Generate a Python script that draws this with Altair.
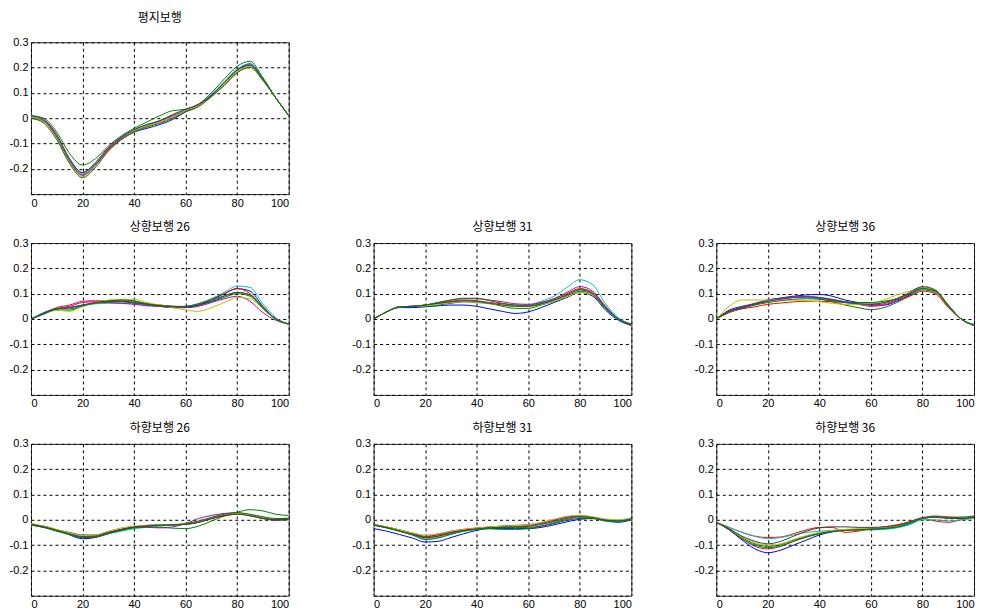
import altair as alt
import pandas as pd

x_pct = [0, 5, 10, 15, 20, 25, 30, 35, 40, 45, 50, 55, 60, 65, 70, 75, 80, 85, 90, 95, 100]
series_names = ["b", "g", "r", "c", "m", "y", "k", "g2"]
series_colors = ["#0000FF", "#008000", "#FF0000", "#00BFBF", "#BF00BF", "#BFBF00", "#404040", "#008000"]

titles = ["평지보행", "상향보행 26", "상향보행 31", "상향보행 36", "하향보행 26", "하향보행 31", "하향보행 36"]

flat = [
    [0.005, -0.01, -0.07, -0.165, -0.215, -0.18, -0.125, -0.085, -0.055, -0.04, -0.025, -0.005, 0.025, 0.05, 0.09, 0.14, 0.19, 0.215, 0.155, 0.08, 0.01],
    [0.01, 0.0, -0.055, -0.14, -0.185, -0.16, -0.11, -0.07, -0.04, -0.015, 0.01, 0.03, 0.035, 0.055, 0.1, 0.155, 0.205, 0.225, 0.16, 0.08, 0.01],
    [0.0, -0.015, -0.075, -0.17, -0.225, -0.185, -0.125, -0.08, -0.05, -0.03, -0.015, 0.005, 0.03, 0.05, 0.085, 0.13, 0.18, 0.205, 0.15, 0.08, 0.01],
    [0.005, -0.01, -0.07, -0.165, -0.22, -0.18, -0.12, -0.075, -0.045, -0.025, -0.01, 0.01, 0.035, 0.055, 0.095, 0.145, 0.195, 0.215, 0.155, 0.08, 0.01],
    [0.0, -0.01, -0.075, -0.17, -0.225, -0.185, -0.12, -0.08, -0.05, -0.03, -0.01, 0.01, 0.03, 0.055, 0.09, 0.14, 0.19, 0.21, 0.15, 0.08, 0.01],
    [0.005, -0.015, -0.08, -0.175, -0.23, -0.19, -0.13, -0.085, -0.05, -0.03, -0.015, 0.005, 0.03, 0.05, 0.085, 0.135, 0.185, 0.205, 0.15, 0.08, 0.01],
    [0.01, -0.005, -0.065, -0.16, -0.215, -0.175, -0.115, -0.075, -0.045, -0.025, -0.01, 0.015, 0.035, 0.055, 0.09, 0.14, 0.19, 0.21, 0.155, 0.08, 0.01],
    [0.0, -0.02, -0.085, -0.18, -0.235, -0.195, -0.13, -0.085, -0.055, -0.035, -0.02, 0.0, 0.025, 0.045, 0.085, 0.13, 0.18, 0.2, 0.15, 0.08, 0.01],
]

up26 = [
    [0.0, 0.025, 0.042, 0.045, 0.055, 0.062, 0.066, 0.068, 0.062, 0.055, 0.05, 0.045, 0.045, 0.055, 0.075, 0.1, 0.12, 0.11, 0.05, 0.0, -0.02],
    [0.0, 0.02, 0.035, 0.035, 0.05, 0.065, 0.072, 0.075, 0.07, 0.06, 0.055, 0.05, 0.048, 0.055, 0.068, 0.085, 0.1, 0.09, 0.04, 0.0, -0.02],
    [0.0, 0.02, 0.045, 0.055, 0.07, 0.072, 0.072, 0.07, 0.065, 0.058, 0.055, 0.05, 0.05, 0.06, 0.08, 0.1, 0.12, 0.1, 0.045, 0.0, -0.02],
    [0.0, 0.02, 0.04, 0.045, 0.055, 0.06, 0.062, 0.062, 0.06, 0.055, 0.05, 0.048, 0.05, 0.06, 0.08, 0.105, 0.13, 0.125, 0.06, 0.005, -0.02],
    [0.0, 0.02, 0.04, 0.05, 0.065, 0.068, 0.065, 0.062, 0.058, 0.052, 0.05, 0.045, 0.045, 0.05, 0.065, 0.08, 0.09, 0.07, 0.025, -0.005, -0.02],
    [0.0, 0.02, 0.035, 0.03, 0.05, 0.065, 0.075, 0.078, 0.078, 0.065, 0.055, 0.045, 0.035, 0.03, 0.045, 0.065, 0.085, 0.08, 0.04, 0.0, -0.02],
    [0.0, 0.022, 0.04, 0.045, 0.055, 0.065, 0.07, 0.07, 0.065, 0.058, 0.052, 0.05, 0.048, 0.055, 0.07, 0.09, 0.105, 0.095, 0.045, 0.0, -0.02],
    [0.0, 0.02, 0.04, 0.04, 0.052, 0.063, 0.07, 0.075, 0.072, 0.06, 0.053, 0.048, 0.05, 0.06, 0.075, 0.092, 0.105, 0.095, 0.045, 0.0, -0.02],
]

up31 = [
    [0.0, 0.028, 0.045, 0.045, 0.048, 0.052, 0.055, 0.055, 0.05, 0.04, 0.03, 0.022, 0.028, 0.045, 0.065, 0.085, 0.105, 0.09, 0.035, -0.005, -0.025],
    [0.0, 0.028, 0.048, 0.05, 0.05, 0.055, 0.062, 0.068, 0.068, 0.062, 0.05, 0.042, 0.042, 0.055, 0.07, 0.09, 0.11, 0.095, 0.04, 0.0, -0.02],
    [0.0, 0.028, 0.048, 0.05, 0.055, 0.062, 0.07, 0.075, 0.072, 0.065, 0.06, 0.055, 0.055, 0.065, 0.08, 0.1, 0.12, 0.105, 0.05, 0.0, -0.025],
    [0.0, 0.028, 0.048, 0.05, 0.055, 0.06, 0.065, 0.068, 0.065, 0.06, 0.055, 0.052, 0.055, 0.07, 0.09, 0.125, 0.155, 0.135, 0.06, 0.005, -0.02],
    [0.0, 0.028, 0.048, 0.05, 0.055, 0.065, 0.075, 0.08, 0.08, 0.075, 0.068, 0.06, 0.058, 0.065, 0.08, 0.105, 0.128, 0.11, 0.05, 0.0, -0.025],
    [0.0, 0.028, 0.048, 0.05, 0.052, 0.058, 0.065, 0.07, 0.068, 0.062, 0.055, 0.05, 0.05, 0.058, 0.07, 0.088, 0.105, 0.095, 0.045, 0.0, -0.02],
    [0.0, 0.028, 0.048, 0.05, 0.055, 0.062, 0.068, 0.072, 0.07, 0.062, 0.055, 0.05, 0.05, 0.06, 0.075, 0.095, 0.115, 0.1, 0.045, 0.0, -0.025],
    [0.0, 0.028, 0.048, 0.05, 0.055, 0.065, 0.075, 0.082, 0.082, 0.072, 0.062, 0.055, 0.052, 0.06, 0.075, 0.095, 0.118, 0.1, 0.045, 0.0, -0.02],
]

up36 = [
    [0.0, 0.035, 0.05, 0.06, 0.075, 0.083, 0.09, 0.095, 0.097, 0.09, 0.075, 0.065, 0.055, 0.055, 0.07, 0.095, 0.12, 0.11, 0.055, 0.0, -0.025],
    [0.0, 0.03, 0.045, 0.058, 0.07, 0.08, 0.085, 0.085, 0.08, 0.068, 0.055, 0.045, 0.037, 0.045, 0.065, 0.09, 0.115, 0.105, 0.05, 0.0, -0.025],
    [0.0, 0.025, 0.04, 0.048, 0.058, 0.063, 0.068, 0.07, 0.07, 0.068, 0.065, 0.06, 0.055, 0.06, 0.075, 0.09, 0.11, 0.1, 0.045, 0.0, -0.025],
    [0.0, 0.03, 0.048, 0.06, 0.072, 0.08, 0.085, 0.085, 0.082, 0.075, 0.068, 0.062, 0.06, 0.065, 0.08, 0.1, 0.12, 0.11, 0.055, 0.0, -0.02],
    [0.0, 0.03, 0.048, 0.062, 0.075, 0.082, 0.088, 0.088, 0.085, 0.075, 0.065, 0.058, 0.05, 0.055, 0.075, 0.1, 0.125, 0.11, 0.05, 0.0, -0.025],
    [0.0, 0.05, 0.075, 0.075, 0.075, 0.075, 0.075, 0.073, 0.068, 0.062, 0.058, 0.058, 0.062, 0.075, 0.095, 0.11, 0.125, 0.11, 0.05, 0.0, -0.025],
    [0.0, 0.03, 0.045, 0.058, 0.07, 0.078, 0.085, 0.088, 0.085, 0.078, 0.068, 0.06, 0.058, 0.065, 0.08, 0.105, 0.128, 0.115, 0.055, 0.0, -0.025],
    [0.0, 0.028, 0.042, 0.055, 0.065, 0.072, 0.078, 0.08, 0.078, 0.072, 0.068, 0.065, 0.065, 0.07, 0.08, 0.1, 0.12, 0.11, 0.05, 0.0, -0.025],
]

down26 = [
    [-0.02, -0.025, -0.04, -0.06, -0.075, -0.07, -0.055, -0.04, -0.03, -0.022, -0.02, -0.02, -0.018, -0.01, 0.005, 0.018, 0.025, 0.02, 0.008, 0.0, 0.0],
    [-0.02, -0.03, -0.04, -0.05, -0.06, -0.06, -0.05, -0.038, -0.03, -0.028, -0.03, -0.033, -0.035, -0.025, -0.005, 0.015, 0.03, 0.04, 0.035, 0.022, 0.017],
    [-0.015, -0.028, -0.042, -0.058, -0.07, -0.068, -0.052, -0.04, -0.03, -0.025, -0.022, -0.02, -0.018, -0.01, 0.005, 0.015, 0.022, 0.018, 0.008, -0.002, 0.002],
    [-0.02, -0.03, -0.045, -0.058, -0.065, -0.065, -0.055, -0.045, -0.035, -0.03, -0.025, -0.022, -0.018, -0.008, 0.008, 0.02, 0.025, 0.018, 0.005, 0.0, 0.0],
    [-0.02, -0.03, -0.042, -0.055, -0.065, -0.062, -0.05, -0.038, -0.03, -0.03, -0.032, -0.028, -0.015, 0.005, 0.017, 0.025, 0.028, 0.018, 0.005, -0.002, 0.005],
    [-0.015, -0.025, -0.038, -0.052, -0.062, -0.06, -0.045, -0.032, -0.025, -0.022, -0.02, -0.018, -0.015, -0.005, 0.008, 0.02, 0.025, 0.02, 0.01, 0.005, 0.008],
    [-0.018, -0.028, -0.042, -0.056, -0.068, -0.066, -0.05, -0.038, -0.028, -0.024, -0.022, -0.02, -0.018, -0.01, 0.005, 0.017, 0.022, 0.015, 0.005, 0.0, 0.002],
    [-0.02, -0.03, -0.045, -0.058, -0.07, -0.068, -0.055, -0.042, -0.032, -0.026, -0.022, -0.02, -0.015, -0.005, 0.01, 0.022, 0.028, 0.022, 0.012, 0.005, 0.005],
]

down31 = [
    [-0.035, -0.045, -0.058, -0.072, -0.088, -0.085, -0.07, -0.055, -0.042, -0.035, -0.035, -0.035, -0.035, -0.03, -0.02, -0.008, 0.002, 0.005, -0.005, -0.01, 0.0],
    [-0.02, -0.03, -0.04, -0.052, -0.065, -0.06, -0.05, -0.04, -0.035, -0.035, -0.038, -0.038, -0.035, -0.025, -0.012, 0.002, 0.01, 0.008, -0.002, -0.005, 0.0],
    [-0.018, -0.028, -0.04, -0.055, -0.068, -0.058, -0.045, -0.038, -0.032, -0.028, -0.025, -0.022, -0.02, -0.012, 0.0, 0.012, 0.015, 0.01, 0.0, -0.003, 0.005],
    [-0.02, -0.032, -0.045, -0.06, -0.075, -0.07, -0.055, -0.045, -0.038, -0.032, -0.028, -0.027, -0.025, -0.018, -0.008, 0.005, 0.01, 0.006, -0.004, -0.005, 0.003],
    [-0.02, -0.03, -0.042, -0.055, -0.07, -0.065, -0.05, -0.04, -0.035, -0.03, -0.026, -0.024, -0.022, -0.015, -0.002, 0.01, 0.015, 0.01, 0.0, -0.002, 0.005],
    [-0.02, -0.028, -0.04, -0.052, -0.06, -0.055, -0.045, -0.038, -0.033, -0.028, -0.025, -0.023, -0.02, -0.01, 0.002, 0.014, 0.018, 0.012, 0.003, 0.0, 0.008],
    [-0.022, -0.032, -0.045, -0.058, -0.07, -0.065, -0.052, -0.042, -0.036, -0.032, -0.03, -0.03, -0.03, -0.025, -0.015, -0.002, 0.005, 0.005, -0.003, -0.005, 0.0],
    [-0.02, -0.03, -0.045, -0.06, -0.078, -0.072, -0.058, -0.045, -0.038, -0.032, -0.03, -0.028, -0.026, -0.018, -0.006, 0.006, 0.012, 0.008, -0.002, -0.004, 0.002],
]

down36 = [
    [-0.01, -0.04, -0.08, -0.115, -0.13, -0.12, -0.1, -0.08, -0.06, -0.048, -0.042, -0.04, -0.038, -0.035, -0.03, -0.015, 0.005, 0.012, 0.008, 0.005, 0.01],
    [-0.01, -0.035, -0.07, -0.095, -0.105, -0.098, -0.08, -0.065, -0.052, -0.045, -0.04, -0.038, -0.036, -0.035, -0.03, -0.015, 0.005, 0.01, 0.008, 0.008, 0.012],
    [-0.01, -0.03, -0.05, -0.065, -0.07, -0.068, -0.055, -0.04, -0.03, -0.03, -0.05, -0.045, -0.035, -0.028, -0.02, -0.008, 0.005, -0.005, -0.01, 0.0, 0.01],
    [-0.01, -0.03, -0.05, -0.065, -0.075, -0.07, -0.06, -0.05, -0.045, -0.042, -0.04, -0.04, -0.04, -0.038, -0.032, -0.02, 0.0, 0.0, -0.005, 0.0, 0.005],
    [-0.01, -0.04, -0.075, -0.105, -0.115, -0.105, -0.085, -0.068, -0.055, -0.045, -0.04, -0.038, -0.035, -0.032, -0.025, -0.01, 0.008, 0.015, 0.012, 0.01, 0.01],
    [-0.01, -0.035, -0.068, -0.09, -0.1, -0.095, -0.078, -0.062, -0.05, -0.042, -0.038, -0.035, -0.032, -0.03, -0.025, -0.01, 0.005, 0.01, 0.01, 0.008, 0.012],
    [-0.01, -0.035, -0.065, -0.085, -0.095, -0.085, -0.065, -0.045, -0.032, -0.028, -0.028, -0.03, -0.03, -0.028, -0.022, -0.008, 0.008, 0.01, 0.005, 0.005, 0.01],
    [-0.01, -0.038, -0.075, -0.1, -0.11, -0.103, -0.085, -0.068, -0.055, -0.046, -0.042, -0.04, -0.038, -0.035, -0.028, -0.012, 0.005, 0.012, 0.008, 0.01, 0.015],
]

panels = [flat, up26, up31, up36, down26, down31, down36]

PW, PH = 258, 152
LABEL_FONT = "Liberation Sans"
TITLE_FONT = "Noto Sans CJK KR"

y_label_expr = "datum.value < -0.25 ? '' : (datum.value == 0 ? '0' : (datum.value < 0 ? '-' : '') + format(abs(datum.value), '.1f'))"


def panel(idx, title_offset):
    rows = []
    for s, vals in zip(series_names, panels[idx]):
        for xv, yv in zip(x_pct, vals):
            rows.append({"x": xv, "y": yv, "s": s})
    df = pd.DataFrame(rows)
    return alt.Chart(df).mark_line(interpolate="monotone", strokeWidth=1, clip=True).encode(
        x=alt.X("x:Q", scale=alt.Scale(domain=[0, 100], nice=False),
                axis=alt.Axis(values=[0, 20, 40, 60, 80, 100], title=None)),
        y=alt.Y("y:Q", scale=alt.Scale(domain=[-0.3, 0.3], nice=False),
                axis=alt.Axis(values=[-0.3, -0.2, -0.1, 0, 0.1, 0.2, 0.3], title=None,
                              labelExpr=y_label_expr)),
        color=alt.Color("s:N", scale=alt.Scale(domain=series_names, range=series_colors), legend=None),
        detail="s:N",
    ).properties(
        width=PW, height=PH,
        title=alt.TitleParams(titles[idx], font=TITLE_FONT, fontSize=12, fontWeight="normal",
                              color="#000000", offset=title_offset, anchor="middle"),
    )


row1 = panel(0, 11)
row2 = alt.hconcat(panel(1, 3), panel(2, 3), panel(3, 3), spacing=61)
row3 = alt.hconcat(panel(4, 3), panel(5, 3), panel(6, 3), spacing=61)

chart = alt.vconcat(row1, alt.vconcat(row2, row3, spacing=11), spacing=11).properties(
    padding={"left": 0, "top": 3, "right": 0, "bottom": 0}
).configure_view(
    stroke="#333333", strokeWidth=1
).configure_axis(
    labelFont=LABEL_FONT, labelFontSize=11, labelColor="#000000",
    domain=False, ticks=False, labelPadding=3,
    grid=True, gridColor="#000000", gridDash=[3, 3], gridOpacity=1, gridWidth=1,
)

chart.save("out.html", embed_options={"renderer": "svg", "actions": False})
